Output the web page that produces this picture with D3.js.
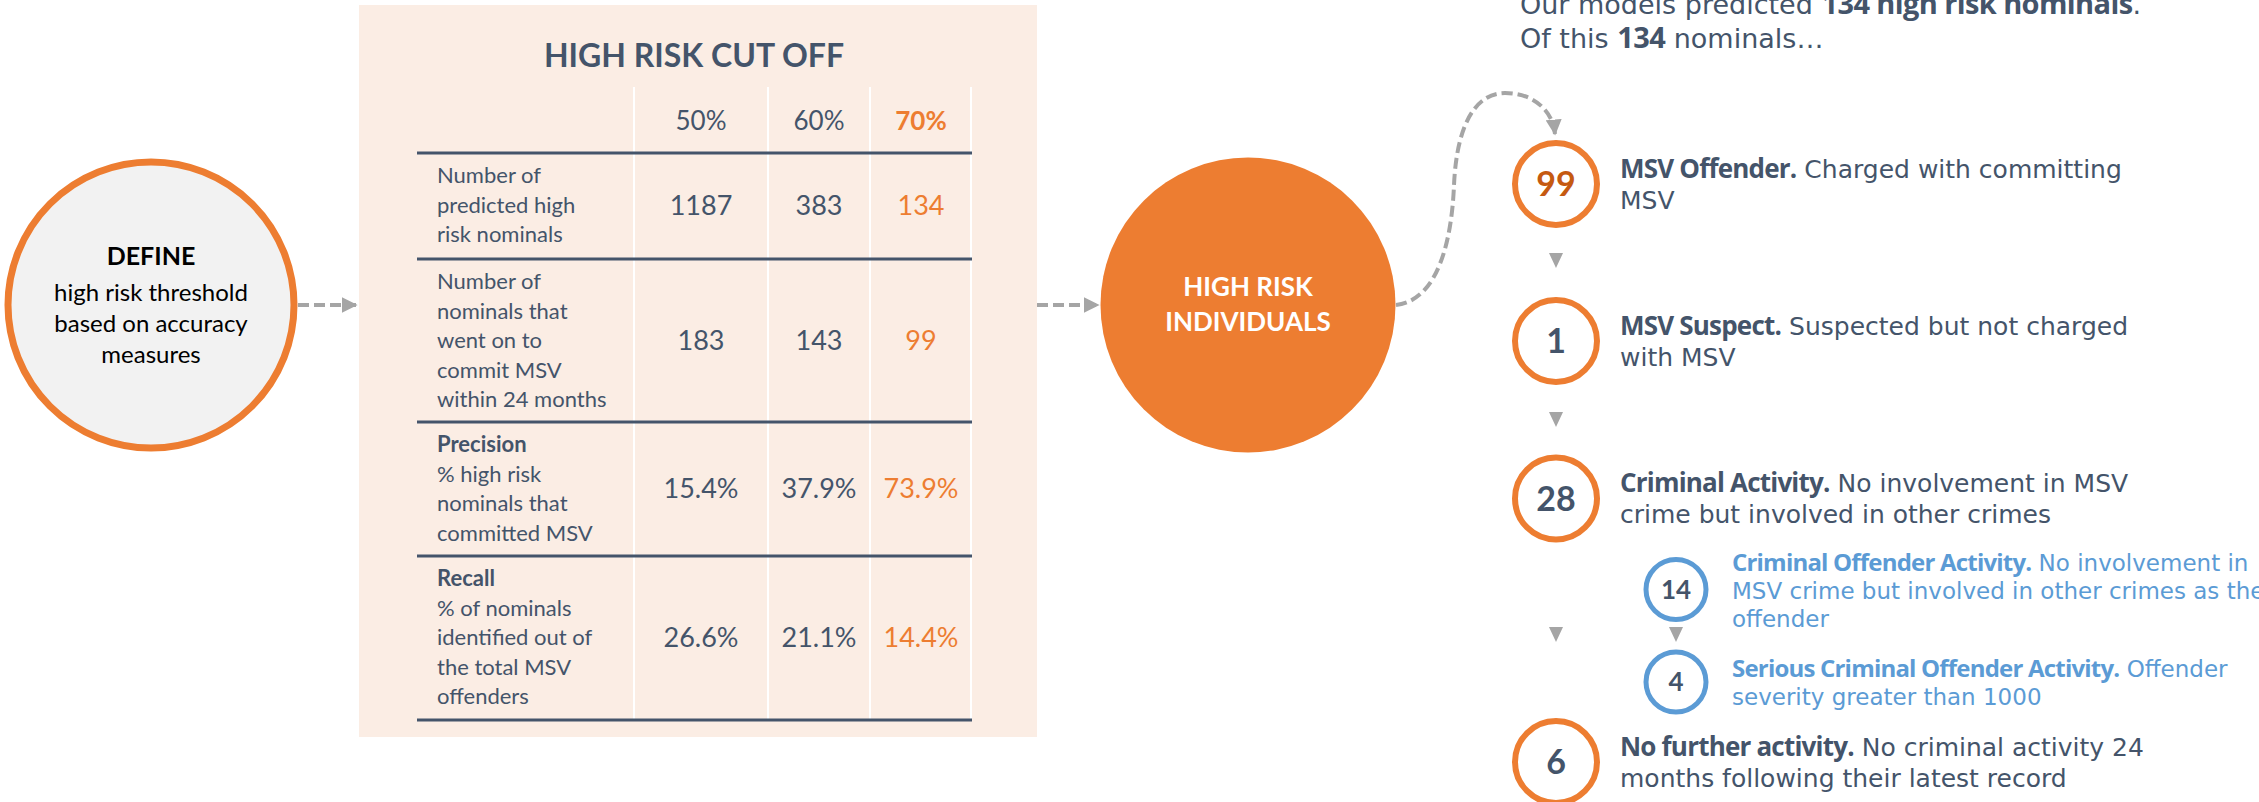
<!DOCTYPE html>
<html>
<head>
<meta charset="utf-8">
<script src="https://cdn.jsdelivr.net/npm/d3@7"></script>
<style>
  html, body { margin: 0; padding: 0; background: #fff; }
  svg { display: block; }
  text { font-family: Lato, "Open Sans", sans-serif; }
  text.story { font-family: "DejaVu Sans", "Open Sans", sans-serif; }
  tspan.lead { font-family: "Open Sans", Lato, sans-serif; font-weight: 700; }
</style>
</head>
<body>
<svg id="chart" width="2259" height="802"></svg>
<script>
// ── Data ─────────────────────────────────────────────────────────────────────
const thresholds = ['50%', '60%', '70%'];
const chosenCut  = '70%';

const rowLabels = [
  { head: null,        lines: ['Number of', 'predicted high', 'risk nominals'] },
  { head: null,        lines: ['Number of', 'nominals that', 'went on to', 'commit MSV', 'within 24 months'] },
  { head: 'Precision', lines: ['% high risk', 'nominals that', 'committed MSV'] },
  { head: 'Recall',    lines: ['% of nominals', 'identified out of', 'the total MSV', 'offenders'] }
];
const predictedHighRisk = ['1187', '383', '134'];
const wentOnToCommit    = ['183', '143', '99'];
const precisionValues   = ['15.4%', '37.9%', '73.9%'];
const recallValues      = ['26.6%', '21.1%', '14.4%'];
const tableValues = [predictedHighRisk, wentOnToCommit, precisionValues, recallValues];

const defineLines = ['high risk threshold', 'based on accuracy', 'measures'];

const introLines = [
  [{ t: 'Our models predicted ', b: false }, { t: '134 high risk nominals', b: true }, { t: '.', b: false }],
  [{ t: 'Of this ', b: false }, { t: '134', b: true }, { t: ' nominals…', b: false }]
];

// level 0 = main outcome (orange), level 1 = breakdown (blue)
const outcomeIds    = ['offender', 'suspect', 'criminal', 'offActivity', 'serious', 'none'];
const outcomeCounts = [99, 1, 28, 14, 4, 6];
const outcomeLevels = [0, 0, 0, 1, 1, 0];
const outcomeTitles = ['MSV Offender.', 'MSV Suspect.', 'Criminal Activity.',
                       'Criminal Offender Activity.', 'Serious Criminal Offender Activity.',
                       'No further activity.'];
const outcomeText = [
  [' Charged with committing', 'MSV'],
  [' Suspected but not charged', 'with MSV'],
  [' No involvement in MSV', 'crime but involved in other crimes'],
  [' No involvement in', 'MSV crime but involved in other crimes as the', 'offender'],
  [' Offender', 'severity greater than 1000'],
  [' No criminal activity 24', 'months following their latest record']
];

// ── Colours ──────────────────────────────────────────────────────────────────
const slate  = '#44546A';
const orange = '#ED7D31';
const darkOr = '#C55A11';
const blue   = '#5B9BD5';
const grey   = '#A5A5A5';
const panel  = '#FBEDE4';

const svg = d3.select('#chart');

// arrowhead marker
svg.append('defs').append('marker')
  .attr('id', 'head')
  .attr('viewBox', '0 0 10 10')
  .attr('refX', 9).attr('refY', 5)
  .attr('markerWidth', 4).attr('markerHeight', 4)
  .attr('markerUnits', 'strokeWidth')
  .attr('orient', 'auto')
  .append('path')
  .attr('d', 'M0,0 L10,5 L0,10 Z')
  .attr('fill', grey);

// ── DEFINE circle ────────────────────────────────────────────────────────────
const defineG = svg.append('g').attr('transform', 'translate(151,305)');
defineG.append('circle').attr('r', 143)
  .attr('fill', '#F2F2F2').attr('stroke', orange).attr('stroke-width', 7);
defineG.append('text').attr('y', -40).attr('text-anchor', 'middle')
  .attr('font-size', 25).attr('font-weight', 700).attr('fill', '#000').text('DEFINE');
defineG.selectAll('.dl').data(defineLines).join('text')
  .attr('class', 'dl')
  .attr('y', (d, i) => -4 + i * 31)
  .attr('text-anchor', 'middle').attr('font-size', 24).attr('fill', '#000')
  .text(d => d);

// dashed connector arrows
function dashed(d) {
  svg.append('path').attr('d', d)
    .attr('fill', 'none').attr('stroke', grey).attr('stroke-width', 4)
    .attr('stroke-dasharray', '11 5')
    .attr('marker-end', 'url(#head)');
}
dashed('M298,305 L356,305');
dashed('M1037,305 L1098,305');

// ── Table panel ──────────────────────────────────────────────────────────────
svg.append('rect').attr('x', 359).attr('y', 5).attr('width', 678).attr('height', 732)
  .attr('fill', panel);

svg.append('text').attr('x', 694).attr('y', 67).attr('text-anchor', 'middle')
  .attr('font-size', 32).attr('font-weight', 700).attr('fill', slate)
  .text('HIGH RISK CUT OFF');

const colX     = d3.scaleOrdinal().domain(thresholds).range([701, 819, 921]);
const colEdges = [634, 768, 870, 971];
const rowTop   = d3.scaleOrdinal().domain(d3.range(rowLabels.length)).range([153, 259, 422, 556]);
const rowBot   = d3.scaleOrdinal().domain(d3.range(rowLabels.length)).range([259, 422, 556, 720]);
const tableL = 417, tableR = 972, headTop = 87;

// white column separators
svg.selectAll('.vsep').data(colEdges).join('line')
  .attr('class', 'vsep')
  .attr('x1', d => d).attr('x2', d => d)
  .attr('y1', headTop).attr('y2', rowBot(rowLabels.length - 1))
  .attr('stroke', '#fff').attr('stroke-width', 2);

// header
svg.selectAll('.hdr').data(thresholds).join('text')
  .attr('class', 'hdr')
  .attr('x', d => colX(d)).attr('y', 130)
  .attr('text-anchor', 'middle').attr('font-size', 26)
  .attr('font-weight', d => d === chosenCut ? 700 : 400)
  .attr('fill', d => d === chosenCut ? orange : slate)
  .text(d => d);

// row rules
const ruleYs = [rowTop(0)].concat(d3.range(rowLabels.length).map(i => rowBot(i)));
svg.selectAll('.rule').data(ruleYs).join('line')
  .attr('class', 'rule')
  .attr('x1', tableL).attr('x2', tableR)
  .attr('y1', d => d).attr('y2', d => d)
  .attr('stroke', slate).attr('stroke-width', 3);

// rows
rowLabels.forEach((row, i) => {
  const lines = row.head ? [{ t: row.head, b: true }].concat(row.lines.map(t => ({ t, b: false })))
                         : row.lines.map(t => ({ t, b: false }));
  svg.append('g').selectAll('text').data(lines).join('text')
    .attr('x', 437)
    .attr('y', (d, j) => rowTop(i) + 30 + j * 29.5)
    .attr('font-size', 22)
    .attr('font-weight', d => d.b ? 700 : 400)
    .attr('fill', slate)
    .text(d => d.t);

  const midY = (rowTop(i) + rowBot(i)) / 2 + 9;
  svg.append('g').selectAll('text').data(tableValues[i]).join('text')
    .attr('x', (d, j) => colX(thresholds[j]))
    .attr('y', midY)
    .attr('text-anchor', 'middle').attr('font-size', 27)
    .attr('fill', (d, j) => thresholds[j] === chosenCut ? orange : slate)
    .text(d => d);
});

// ── HIGH RISK INDIVIDUALS ────────────────────────────────────────────────────
const hrG = svg.append('g').attr('transform', 'translate(1248,305)');
hrG.append('circle').attr('r', 147.5).attr('fill', orange);
hrG.selectAll('text').data(['HIGH RISK', 'INDIVIDUALS']).join('text')
  .attr('y', (d, i) => -9 + i * 35)
  .attr('text-anchor', 'middle').attr('font-size', 26).attr('font-weight', 700)
  .attr('fill', '#fff').text(d => d);

// curved connector into the first outcome
dashed('M1396,305 C1440,300 1452,235 1454,185 C1457,120 1478,93 1505,93 C1535,93 1553,112 1555,134');

// ── Intro text ───────────────────────────────────────────────────────────────
introLines.forEach((parts, i) => {
  const t = svg.append('text').attr('class', 'story').attr('x', 1520).attr('y', 14 + i * 34)
    .attr('font-size', 27).attr('fill', slate);
  t.selectAll('tspan').data(parts).join('tspan')
    .attr('class', d => d.b ? 'lead' : null)
    .attr('font-size', d => d.b ? 29 : 27)
    .attr('letter-spacing', d => d.b ? -0.6 : 0)
    .text(d => d.t);
});

// ── Outcome ladder ───────────────────────────────────────────────────────────
const outY = d3.scaleOrdinal().domain(outcomeIds).range([184, 341, 498.5, 589.5, 682, 762]);
const outX = d3.scaleOrdinal().domain([0, 1]).range([1556, 1676]);
const outR = d3.scaleOrdinal().domain([0, 1]).range([41, 30]);
const txtX = d3.scaleOrdinal().domain([0, 1]).range([1620, 1732]);
const txtSize  = d3.scaleOrdinal().domain([0, 1]).range([25, 23]);
const leadSize = d3.scaleOrdinal().domain([0, 1]).range([26, 24]);

// down arrowheads between steps
const stepArrows = [
  { x: outX(0), y: 253 }, { x: outX(0), y: 412 },
  { x: outX(0), y: 627 }, { x: outX(1), y: 627 }
];
svg.selectAll('.step').data(stepArrows).join('path')
  .attr('class', 'step')
  .attr('d', d => `M${d.x - 7},${d.y} L${d.x + 7},${d.y} L${d.x},${d.y + 15} Z`)
  .attr('fill', grey);

outcomeIds.forEach((id, i) => {
  const lvl = outcomeLevels[i];
  const cx = outX(lvl), cy = outY(id);
  const col = lvl === 0 ? orange : blue;

  svg.append('circle').attr('cx', cx).attr('cy', cy).attr('r', outR(lvl))
    .attr('fill', '#fff').attr('stroke', col).attr('stroke-width', lvl === 0 ? 6 : 5);

  svg.append('text').attr('x', cx).attr('y', cy + (lvl === 0 ? 12 : 9))
    .attr('text-anchor', 'middle')
    .attr('font-size', lvl === 0 ? 34 : 26).attr('font-weight', 700)
    .attr('fill', id === 'offender' ? darkOr : slate)
    .text(outcomeCounts[i]);

  const lines = outcomeText[i];
  const lh = lvl === 0 ? 31 : 28;
  const y0 = cy - (lines.length - 1) * lh / 2 + 9;
  const txtCol = lvl === 0 ? slate : blue;
  lines.forEach((ln, j) => {
    const t = svg.append('text').attr('class', 'story').attr('x', txtX(lvl)).attr('y', y0 + j * lh)
      .attr('font-size', txtSize(lvl)).attr('fill', txtCol);
    if (j === 0) {
      t.append('tspan').attr('class', 'lead').attr('font-size', leadSize(lvl))
        .attr('letter-spacing', -0.8).text(outcomeTitles[i]);
    }
    t.append('tspan').text(ln);
  });
});
</script>
</body>
</html>
